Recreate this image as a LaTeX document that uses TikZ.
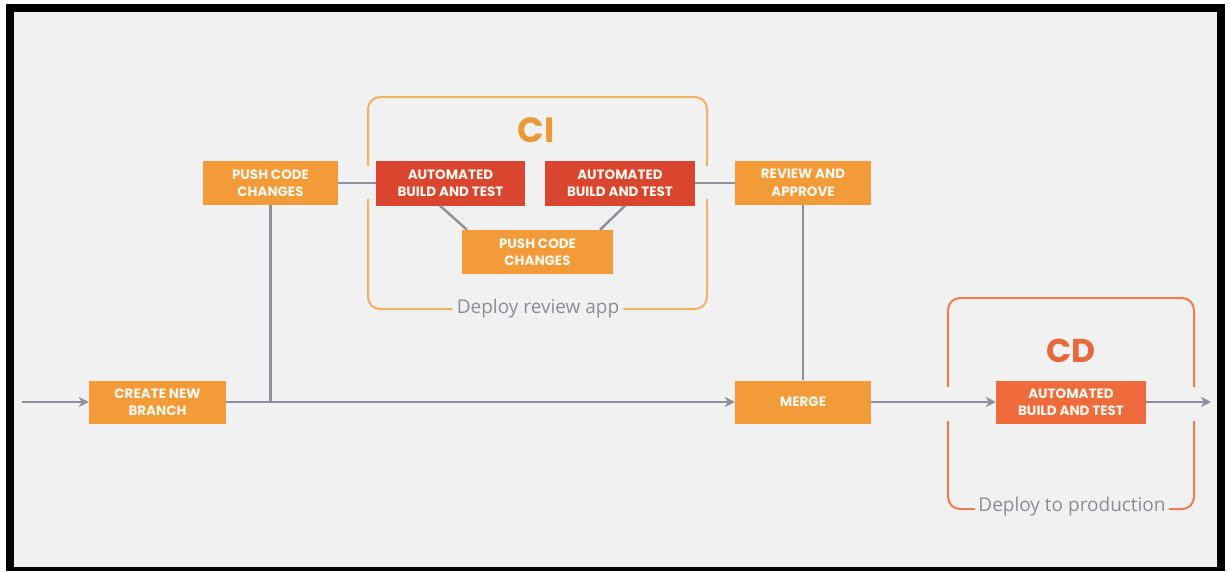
\documentclass[tikz,border=0pt]{standalone}
\usepackage{fontspec}
\setmainfont{Poppins}
\newfontfamily\labelfont{Open Sans}
\usetikzlibrary{arrows.meta}
\definecolor{bgc}{HTML}{F1F1F1}
\definecolor{boxorange}{HTML}{F29B38}
\definecolor{boxred}{HTML}{D9452F}
\definecolor{boxcd}{HTML}{F06B3B}
\definecolor{linegray}{HTML}{8E8E9C}
\definecolor{cibr}{HTML}{F4B062}
\definecolor{citext}{HTML}{EA9A35}
\definecolor{cdbr}{HTML}{EE7C4E}
\definecolor{cdtext}{HTML}{E8683A}
\definecolor{subtext}{HTML}{8C8C96}
\definecolor{boxtext}{HTML}{FFF8EE}
\tikzset{
  stepbox/.style={fill=#1, text=boxtext, font=\bfseries\fontsize{13.5}{17.5}\selectfont,
    align=center, inner sep=0pt, draw=none},
  conn/.style={draw=linegray, line width=2.4pt},
  arr/.style={conn, -{Stealth[length=10pt,width=10pt,inset=3pt]}},
  bracket/.style={line width=2pt, rounded corners=12pt},
  sublabel/.style={text=subtext, font=\labelfont\fontsize{19}{21}\selectfont, inner sep=0pt}
}
\begin{document}
\begin{tikzpicture}[x=1pt,y=-1pt]
\useasboundingbox (0,0) rectangle (1231,571);
\fill[white] (0,0) rectangle (1231,571);
\fill[black] (6,4) rectangle (1225,571);
\fill[bgc] (14,12) rectangle (1217,567);

% boxes
\node[stepbox=boxorange, minimum width=137pt, minimum height=43pt] (create) at (157.5,402) {CREATE NEW\\BRANCH};
\node[stepbox=boxorange, minimum width=135pt, minimum height=44pt] (push1) at (270.5,183) {PUSH CODE\\CHANGES};
\node[stepbox=boxred, minimum width=149pt, minimum height=45pt] (aut1) at (450.5,183) {AUTOMATED\\BUILD AND TEST};
\node[stepbox=boxred, minimum width=150pt, minimum height=45pt] (aut2) at (620,183) {AUTOMATED\\BUILD AND TEST};
\node[stepbox=boxorange, minimum width=151pt, minimum height=44pt] (push2) at (537.5,252) {PUSH CODE\\CHANGES};
\node[stepbox=boxorange, minimum width=136pt, minimum height=44pt] (review) at (803,183) {REVIEW AND\\APPROVE};
\node[stepbox=boxorange, minimum width=136pt, minimum height=43pt] (merge) at (803,402) {MERGE};
\node[stepbox=boxcd, minimum width=150pt, minimum height=43pt] (cdbox) at (1071,402) {AUTOMATED\\BUILD AND TEST};

% group labels
\node[text=citext, font=\bfseries\fontsize{35}{37}\selectfont, inner sep=0pt] (citxt) at (536,130) {CI};
\node[text=cdtext, font=\bfseries\fontsize{33}{35}\selectfont, inner sep=0pt] (cdtxt) at (1071,351) {CD};
\node[sublabel] (cisub) at (538,309) {Deploy review app};
\node[sublabel] (cdsub) at (1072,507) {Deploy to production};

% CI bracket
\draw[bracket, draw=cibr] (368,166) -- (368,97) -- (707,97) -- (707,166);
\draw[bracket, draw=cibr] (707,199) -- (707,309) -- ([xshift=4pt]cisub.east |- 0,309);
\draw[bracket, draw=cibr] ([xshift=-4pt]cisub.west |- 0,309) -- (368,309) -- (368,199);

% CD bracket
\draw[bracket, draw=cdbr] (948,387) -- (948,298) -- (1194,298) -- (1194,387);
\draw[bracket, draw=cdbr] (1194,421) -- (1194,509) -- ([xshift=3pt]cdsub.east |- 0,509);
\draw[bracket, draw=cdbr] ([xshift=-3pt]cdsub.west |- 0,509) -- (948,509) -- (948,421);

% connectors
\coordinate (start) at (22,402);
\coordinate (finish) at (1211,402);
\draw[arr] (start) -- (create.west);
\draw[arr] (create.east) -- (merge.west);
\draw[conn] (push1.south) -- (push1.south |- create.east);
\draw[conn] (push1.east) -- (aut1.west);
\draw[conn] ([xshift=-10.5pt]aut1.south) -- ([xshift=-70.5pt]push2.north);
\draw[conn] ([xshift=5pt]aut2.south) -- ([xshift=62.5pt]push2.north);
\draw[conn] (aut2.east) -- (review.west);
\draw[conn] (review.south) -- (merge.north);
\draw[arr] (merge.east) -- (cdbox.west);
\draw[arr] (cdbox.east) -- (finish);
\end{tikzpicture}
\end{document}
